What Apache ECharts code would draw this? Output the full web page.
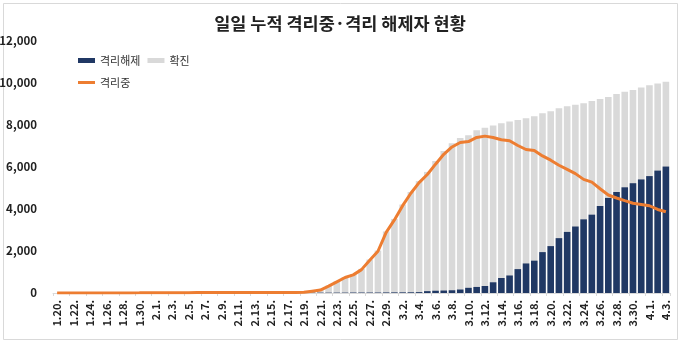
<!DOCTYPE html>
<html>
<head>
<meta charset="utf-8">
<script src="https://cdn.jsdelivr.net/npm/echarts@6/dist/echarts.min.js"></script>
<style>html,body{margin:0;padding:0;background:#fff;}#c{width:680px;height:340px;}</style>
</head>
<body>
<div id="c"></div>
<script>
var categories = ['1.20.','1.21.','1.22.','1.23.','1.24.','1.25.','1.26.','1.27.','1.28.','1.29.','1.30.','1.31.',
'2.1.','2.2.','2.3.','2.4.','2.5.','2.6.','2.7.','2.8.','2.9.','2.10.','2.11.','2.12.','2.13.','2.14.','2.15.','2.16.','2.17.','2.18.','2.19.','2.20.','2.21.','2.22.','2.23.','2.24.','2.25.','2.26.','2.27.','2.28.','2.29.',
'3.1.','3.2.','3.3.','3.4.','3.5.','3.6.','3.7.','3.8.','3.9.','3.10.','3.11.','3.12.','3.13.','3.14.','3.15.','3.16.','3.17.','3.18.','3.19.','3.20.','3.21.','3.22.','3.23.','3.24.','3.25.','3.26.','3.27.','3.28.','3.29.','3.30.','3.31.',
'4.1.','4.2.','4.3.'];

var confirmed = [1,1,1,1,2,2,3,4,4,4,6,11,
12,15,15,16,18,23,24,24,27,27,28,28,28,28,28,29,30,31,46,104,156,346,556,763,893,1146,1595,2022,2931,
3526,4212,4812,5328,5766,6284,6767,7134,7382,7513,7755,7869,7979,8086,8162,8236,8320,8413,8565,8652,8799,8897,8961,9037,9137,9241,9332,9478,9583,9661,9786,
9887,9976,10062];

var released = [0,0,0,0,0,0,0,0,0,0,0,0,
0,0,0,0,1,1,1,1,3,3,4,7,7,7,9,9,10,12,12,16,16,16,18,18,22,22,22,22,27,
30,31,34,41,88,108,118,130,166,247,288,333,510,714,834,1137,1407,1540,1947,2233,2612,2909,3166,3507,3730,4144,4528,4811,5033,5228,5408,
5567,5828,6021];

var isolated = [1,1,1,1,2,2,3,4,4,4,6,11,
12,15,15,16,17,22,23,23,24,24,24,21,21,21,19,20,20,19,34,87,139,328,533,738,863,1113,1561,1987,2888,
3479,4159,4750,5255,5643,6134,6605,6954,7165,7212,7407,7470,7402,7300,7253,7024,6832,6789,6527,6325,6085,5884,5684,5410,5281,4966,4665,4523,4398,4275,4216,
4155,3979,3867];

var yTicks = [0,2000,4000,6000,8000,10000,12000];

var FONT = '"Noto Sans CJK KR", "Noto Sans", sans-serif';
var chart = echarts.init(document.getElementById('c'), null, {renderer:'canvas'});
chart.setOption({
  backgroundColor: '#ffffff',
  animation: false,
  textStyle: {fontFamily: FONT},
  graphic: [{
    type: 'rect', left: 1, top: 1, silent: true,
    shape: {width: 674, height: 336},
    style: {fill: 'none', stroke: '#d9d9d9', lineWidth: 1}
  }],
  title: {
    text: '일일 누적 격리중·격리 해제자 현황',
    left: 'center', top: 10,
    textStyle: {fontFamily: FONT, fontSize: 17.5, fontWeight: 'bold', color: '#222'}
  },
  legend: [{
    data: ['격리해제', '확진'],
    left: 73, top: 50, orient: 'horizontal',
    itemWidth: 17, itemHeight: 5, itemGap: 7, icon: 'rect',
    textStyle: {fontFamily: FONT, fontSize: 11, color: '#333'}
  }, {
    data: ['격리중'],
    left: 73, top: 72,
    itemWidth: 17, itemHeight: 3, icon: 'rect',
    textStyle: {fontFamily: FONT, fontSize: 11, color: '#333'}
  }],
  grid: {left: 53, right: 10, top: 41, bottom: 47, containLabel: false, outerBoundsMode: 'none'},
  xAxis: {
    type: 'category',
    data: categories,
    boundaryGap: true,
    axisLine: {show: true, lineStyle: {color: '#d9d9d9', width: 1}},
    axisTick: {show: true, interval: 1, length: 3, lineStyle: {color: '#d9d9d9'}},
    axisLabel: {
      interval: 1, rotate: 90, margin: 7,
      fontFamily: FONT, fontSize: 11, fontWeight: 'bold', color: '#222'
    }
  },
  yAxis: {
    type: 'value',
    min: 0, max: 12000, interval: 2000,
    axisLine: {show: false},
    axisTick: {show: false},
    splitLine: {show: false},
    axisLabel: {
      margin: 16, fontFamily: FONT, fontSize: 11.5, fontWeight: 'bold', color: '#222',
      formatter: function (v) { return yTicks.indexOf(v) >= 0 ? v.toLocaleString('en-US') : ''; }
    }
  },
  series: [{
    name: '확진', type: 'bar', data: confirmed,
    itemStyle: {color: '#d9d9d9'},
    barGap: '-100%', barCategoryGap: '20%', z: 1
  }, {
    name: '격리해제', type: 'bar', data: released,
    itemStyle: {color: '#203864'},
    barGap: '-100%', barCategoryGap: '20%', z: 2
  }, {
    name: '격리중', type: 'line', data: isolated,
    showSymbol: false, symbol: 'none',
    lineStyle: {color: '#ed7d31', width: 3},
    itemStyle: {color: '#ed7d31'},
    z: 5
  }]
});
</script>
</body>
</html>
